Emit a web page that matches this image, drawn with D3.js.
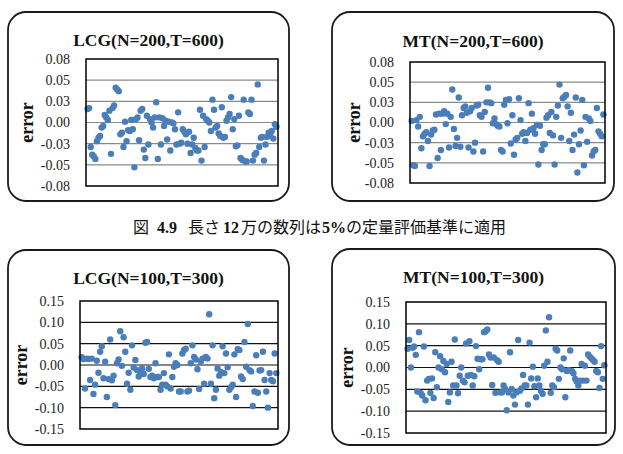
<!DOCTYPE html>
<html>
<head>
<meta charset="utf-8">
<script src="https://cdn.jsdelivr.net/npm/d3@7"></script>
<style>
  body { margin: 0; background: #fff; }
</style>
</head>
<body>
<div id="chart"></div>
<script>
// error values per sample (left to right)
const lcg200 = [0.016,0.017,-0.029,-0.038,-0.040,-0.043,-0.022,-0.018,-0.016,-0.006,-0.004,0.009,0.006,0.003,0.014,-0.037,0.017,0.020,0.041,0.039,0.037,-0.014,-0.012,-0.029,0.001,-0.022,-0.009,-0.010,0.003,-0.008,-0.053,0.004,0.006,-0.021,0.014,0.016,-0.032,-0.042,0.008,-0.026,0.004,0.000,-0.006,0.006,0.024,-0.043,0.006,-0.026,0.005,-0.004,0.002,-0.020,0.001,-0.033,0.000,-0.001,-0.008,-0.026,0.012,-0.025,-0.024,-0.008,-0.011,-0.014,-0.025,-0.011,-0.036,-0.026,-0.018,-0.030,-0.033,-0.033,0.015,-0.045,0.008,-0.029,0.004,0.002,0.000,-0.010,0.027,0.015,-0.006,-0.004,-0.013,-0.016,0.018,-0.018,-0.017,0.002,0.006,0.010,0.030,-0.008,0.004,-0.028,-0.027,0.008,-0.042,-0.044,0.027,-0.046,-0.046,0.012,0.010,0.027,-0.045,-0.038,-0.036,0.045,-0.029,-0.018,-0.017,-0.045,-0.026,-0.017,-0.012,-0.015,-0.010,-0.019,-0.002,-0.005];
const mt200 = [0.002,-0.053,-0.054,0.003,-0.005,0.007,-0.032,-0.017,-0.014,-0.012,-0.023,-0.054,-0.015,-0.010,-0.009,0.010,-0.044,0.011,-0.034,0.011,0.014,-0.002,0.011,-0.031,0.007,0.041,-0.008,-0.029,-0.019,0.031,-0.030,0.009,0.018,0.020,0.012,-0.031,0.014,0.018,-0.036,-0.025,0.021,0.022,0.009,0.007,-0.036,0.013,0.025,0.043,0.025,0.024,-0.001,0.005,-0.002,-0.004,-0.005,-0.034,-0.036,0.022,0.028,-0.001,0.029,-0.026,0.009,-0.040,-0.021,-0.019,0.030,0.003,-0.014,-0.012,-0.023,-0.013,0.024,-0.009,0.011,-0.007,-0.014,-0.003,-0.052,-0.004,-0.034,-0.027,-0.027,0.006,0.009,-0.013,0.013,-0.016,-0.052,0.007,0.021,0.047,-0.019,0.030,0.032,0.034,0.020,-0.023,0.012,-0.034,-0.015,0.031,-0.062,-0.027,-0.010,0.028,-0.053,0.007,-0.024,0.005,0.002,-0.041,-0.036,-0.034,0.018,-0.011,-0.014,-0.017,0.010];
const lcg100 = [0.018,0.014,-0.055,0.015,0.014,-0.035,0.015,-0.068,-0.046,0.010,-0.018,0.031,0.044,-0.031,0.008,-0.075,-0.033,0.060,-0.036,-0.025,-0.094,0.004,0.013,0.079,-0.002,0.065,0.031,-0.044,-0.018,-0.058,0.046,-0.006,0.012,-0.012,-0.027,-0.019,-0.008,-0.021,0.052,0.054,-0.009,-0.028,-0.025,-0.031,0.004,-0.028,-0.028,-0.058,-0.046,-0.019,-0.046,-0.050,0.025,-0.055,-0.028,-0.004,0.004,0.000,-0.062,-0.062,0.027,0.035,0.038,-0.062,-0.060,0.004,0.046,0.019,0.013,-0.010,-0.056,0.008,0.015,-0.044,0.019,0.015,0.119,-0.044,0.046,-0.078,-0.058,-0.008,-0.025,-0.017,0.044,-0.019,0.027,-0.005,-0.058,-0.052,-0.046,0.025,-0.075,0.037,0.035,-0.027,-0.033,0.054,-0.004,0.096,-0.012,-0.015,-0.096,-0.062,0.023,-0.065,-0.013,-0.012,0.031,-0.035,-0.062,-0.100,-0.019,-0.035,-0.038,0.027,-0.019];
const mt100 = [0.043,0.063,0.000,0.045,0.048,0.029,-0.055,0.081,-0.058,-0.064,0.048,-0.075,-0.030,-0.026,-0.058,-0.025,-0.070,0.035,-0.045,0.000,0.026,-0.004,0.015,-0.011,0.008,-0.079,-0.057,0.013,-0.041,0.064,-0.041,-0.059,-0.019,0.000,-0.030,-0.034,0.055,-0.019,0.060,-0.017,-0.041,-0.020,0.049,0.020,-0.004,0.019,0.019,0.081,0.083,0.087,0.030,0.023,-0.040,0.023,-0.058,0.017,0.013,-0.057,-0.057,-0.041,-0.049,-0.098,-0.057,0.035,-0.049,-0.064,-0.085,-0.057,0.063,-0.053,-0.048,-0.017,-0.041,-0.041,-0.085,0.057,-0.025,0.002,-0.043,-0.068,-0.025,-0.041,-0.053,-0.060,0.004,0.085,0.013,0.115,-0.058,-0.041,-0.045,0.043,0.039,-0.026,0.000,-0.004,0.021,-0.068,-0.008,-0.006,0.039,-0.008,-0.013,-0.026,-0.032,-0.041,-0.030,0.008,-0.030,0.004,-0.030,0.030,0.025,0.021,0.017,0.013,-0.008,-0.011,-0.047,0.049,-0.026,0.005];

const ticks200 = [-0.075, -0.05, -0.025, 0, 0.025, 0.05, 0.075];
const tickLabels200 = ["-0.08", "-0.05", "-0.03", "0.00", "0.03", "0.05", "0.08"];
const ticks100 = [-0.15, -0.10, -0.05, 0, 0.05, 0.10, 0.15];
const tickLabels100 = ["-0.15", "-0.10", "-0.05", "0.00", "0.05", "0.10", "0.15"];

const titles = ["LCG(N=200,T=600)", "MT(N=200,T=600)", "LCG(N=100,T=300)", "MT(N=100,T=300)"];
const yLabel = "error";
const captionParts = ["図", "4.9", "長さ", "12", "万の数列は", "5%", "の定量評価基準に適用"];

var width = 623,
    height = 454,
    dotColor = "#4a7ebb",
    serif = "'Liberation Serif', 'Times New Roman', serif",
    cjk = "'Noto Sans CJK JP', sans-serif";

// frame / plot boxes for the four panels
var panels = [
    { data: lcg200, ticks: ticks200, labels: tickLabels200, title: titles[0], grid: "#8a8a8a",
      frame: { x: 8, y: 12, w: 281, h: 189 }, plot: { l: 86, r: 278, t: 59, b: 186 }, titleY: 46, labelX: 33 },
    { data: mt200, ticks: ticks200, labels: tickLabels200, title: titles[1], grid: "#8a8a8a",
      frame: { x: 332, y: 12, w: 282, h: 189 }, plot: { l: 410, r: 605, t: 62, b: 183 }, titleY: 47, labelX: 360 },
    { data: lcg100, ticks: ticks100, labels: tickLabels100, title: titles[2], grid: "#111",
      frame: { x: 8, y: 250, w: 281, h: 195 }, plot: { l: 80, r: 278, t: 301, b: 429 }, titleY: 284, labelX: 27 },
    { data: mt100, ticks: ticks100, labels: tickLabels100, title: titles[3], grid: "#111",
      frame: { x: 332, y: 249, w: 283, h: 196 }, plot: { l: 406, r: 606, t: 302, b: 433 }, titleY: 283, labelX: 353 }
];

var svg = d3.select("#chart").append("svg")
    .attr("width", width)
    .attr("height", height)
    .style("display", "block");

panels.forEach(p => drawPanel(svg, p));
drawCaption(svg);

function drawPanel(svg, p) {
    var g = svg.append("g");

    // rounded outer frame
    g.append("rect")
        .attr("x", p.frame.x)
        .attr("y", p.frame.y)
        .attr("width", p.frame.w)
        .attr("height", p.frame.h)
        .attr("rx", 18)
        .attr("fill", "#fff")
        .attr("stroke", "#1a1a1a")
        .attr("stroke-width", 1.8);

    g.append("text")
        .attr("x", p.frame.x + p.frame.w / 2)
        .attr("y", p.titleY)
        .attr("text-anchor", "middle")
        .style("font", `bold 17.5px ${serif}`)
        .attr("fill", "#111")
        .text(p.title);

    var x = d3.scaleLinear()
        .domain([0, p.data.length + 1])
        .range([p.plot.l, p.plot.r]);

    var y = d3.scaleLinear()
        .domain([p.ticks[0], p.ticks[p.ticks.length - 1]])
        .range([p.plot.b, p.plot.t]);

    // horizontal gridlines
    g.append("g")
        .selectAll("line")
        .data(p.ticks.slice(1, -1))
        .join("line")
        .attr("x1", p.plot.l)
        .attr("x2", p.plot.r)
        .attr("y1", d => y(d))
        .attr("y2", d => y(d))
        .attr("stroke", p.grid)
        .attr("stroke-width", 1.1);

    var yAxis = d3.axisLeft(y)
        .tickValues(p.ticks)
        .tickFormat((d, i) => p.labels[i])
        .tickSize(0)
        .tickPadding(16);

    g.append("g")
        .attr("transform", `translate(${p.plot.l},0)`)
        .call(yAxis)
        .call(a => a.select(".domain").remove())
        .call(a => a.selectAll("text")
            .attr("fill", "#222")
            .style("font", `14px ${serif}`));

    g.append("text")
        .attr("transform", `translate(${p.labelX},${(p.plot.t + p.plot.b) / 2}) rotate(-90)`)
        .attr("text-anchor", "middle")
        .style("font", `bold 18px ${serif}`)
        .attr("fill", "#111")
        .text(yLabel);

    g.append("g")
        .selectAll("circle")
        .data(p.data)
        .join("circle")
        .attr("cx", (d, i) => x(i + 1))
        .attr("cy", d => y(d))
        .attr("r", 3.2)
        .attr("fill", dotColor);

    // plot area border on top
    g.append("rect")
        .attr("x", p.plot.l)
        .attr("y", p.plot.t)
        .attr("width", p.plot.r - p.plot.l)
        .attr("height", p.plot.b - p.plot.t)
        .attr("fill", "none")
        .attr("stroke", "#000")
        .attr("stroke-width", 1.5);
}

function drawCaption(svg) {
    // numbers in bold serif, the rest in the CJK font
    var styles = [
        { font: cjk, weight: "normal", dx: 0 },
        { font: serif, weight: "bold", dx: 8 },
        { font: cjk, weight: "normal", dx: 11 },
        { font: serif, weight: "bold", dx: 3 },
        { font: cjk, weight: "normal", dx: 2 },
        { font: serif, weight: "bold", dx: 1 },
        { font: cjk, weight: "normal", dx: 0 }
    ];

    svg.append("text")
        .attr("x", 133)
        .attr("y", 233)
        .attr("fill", "#111")
        .style("font-size", "16px")
        .selectAll("tspan")
        .data(captionParts)
        .join("tspan")
        .attr("dx", (d, i) => styles[i].dx)
        .style("font-family", (d, i) => styles[i].font)
        .style("font-weight", (d, i) => styles[i].weight)
        .text(d => d);
}
</script>
</body>
</html>
